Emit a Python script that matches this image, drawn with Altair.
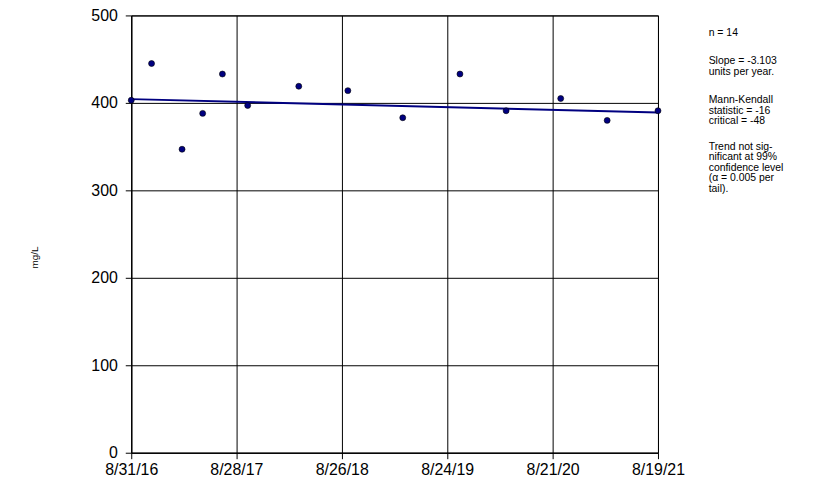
import altair as alt
import pandas as pd

# ---- data ----
sample_dates = ["2016-08-31", "2016-11-09", "2017-02-22", "2017-05-04", "2017-07-11",
                "2017-10-06", "2018-03-31", "2018-09-16", "2019-03-24", "2019-10-07",
                "2020-03-14", "2020-09-18", "2021-02-25", "2021-08-19"]
sample_values = [403, 445, 347, 388, 433, 397, 419, 414, 383, 433, 391, 405, 380, 391]

trend_dates = ["2016-08-31", "2021-08-19"]
trend_values = [404.3, 388.9]

x_tick_dates = ["2016-08-31", "2017-08-28", "2018-08-26", "2019-08-24", "2020-08-21", "2021-08-19"]
y_tick_values = [0, 100, 200, 300, 400, 500]

stats_blocks = [
    ["n = 14"],
    ["Slope = -3.103", "units per year."],
    ["Mann-Kendall", "statistic = -16", "critical = -48"],
    ["Trend not sig-", "nificant at 99%", "confidence level", "(\u03b1 = 0.005 per", "tail)."],
]

FONT = "Liberation Sans"
NAVY = "#000080"


def ms(d):
    return int(pd.Timestamp(d, tz="UTC").value // 10**6)


pts = pd.DataFrame({"date": [ms(d) for d in sample_dates], "value": sample_values})
trend = pd.DataFrame({"date": [ms(d) for d in trend_dates], "value": trend_values})

x_scale = alt.Scale(type="utc", domain=[ms(x_tick_dates[0]), ms(x_tick_dates[-1])], nice=False)
y_scale = alt.Scale(domain=[0, 500], nice=False)

x_axis = alt.Axis(values=[ms(d) for d in x_tick_dates],
                  labelExpr="utcFormat(datum.value, '%-m/%-d/%y')",
                  title=None, grid=True, gridColor="black", gridOpacity=1, gridWidth=1,
                  domainColor="black", tickColor="black", tickSize=6,
                  labelFontSize=16, labelColor="black", labelFont=FONT, labelPadding=3,
                  labelFlush=False)
y_axis = alt.Axis(values=y_tick_values, title="mg/L", grid=True, gridColor="black",
                  gridOpacity=1, gridWidth=1, domainColor="black", tickColor="black",
                  tickSize=6, labelFontSize=16, labelColor="black", labelFont=FONT,
                  labelPadding=8, titleFont=FONT, titleFontSize=10, titleFontWeight="normal",
                  titleColor="black", titleX=-97, titleY=243, titleAlign="center",
                  titleBaseline="middle", titleAngle=270)

line = alt.Chart(trend).mark_line(color=NAVY, strokeWidth=2).encode(
    x=alt.X("date:T", scale=x_scale, axis=x_axis),
    y=alt.Y("value:Q", scale=y_scale, axis=y_axis),
)

points = alt.Chart(pts).mark_point(filled=True, size=36, color=NAVY, stroke="black",
                                   strokeWidth=0.6, opacity=1).encode(
    x=alt.X("date:T", scale=x_scale, axis=x_axis),
    y=alt.Y("value:Q", scale=y_scale, axis=y_axis),
)

block_tops = [32, 61, 100, 147]
line_step = 10.5
texts = []
for block, top in zip(stats_blocks, block_tops):
    for i, t in enumerate(block):
        texts.append({"t": t, "y": top - 14.7 + i * line_step})
txt_df = pd.DataFrame(texts)
annot = alt.Chart(txt_df).mark_text(align="left", baseline="middle", font=FONT, fontSize=10.5,
                                    color="black").encode(
    x=alt.value(581),
    y=alt.Y("y:Q", scale=None),
    text="t:N",
)

chart = alt.layer(line, points, annot).properties(
    width=530, height=440,
    autosize=alt.AutoSizeParams(type="none"),
    padding={"left": 124, "top": 6, "right": 160, "bottom": 30},
    background="white",
).configure_view(stroke="black", strokeWidth=1)

chart.save("out.html", embed_options={"renderer": "svg", "actions": False})
